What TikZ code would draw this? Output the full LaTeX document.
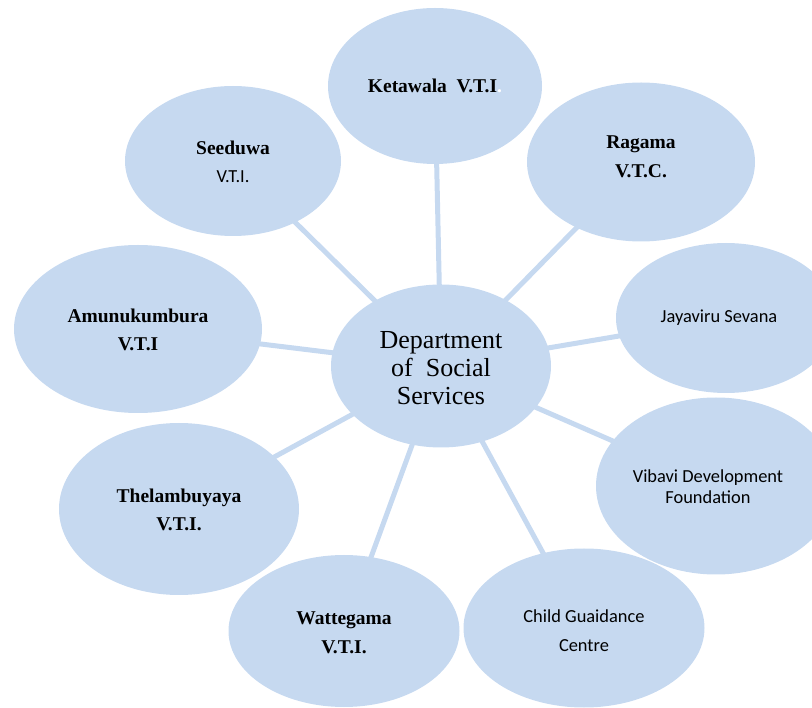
\documentclass[tikz,border=0pt]{standalone}
\usepackage{fontspec}
\setmainfont{Liberation Serif}
\newfontfamily\calfont{Carlito}
\newfontfamily\timesfont{Liberation Serif}
\usetikzlibrary{shapes.geometric,backgrounds}
\definecolor{bubble}{RGB}{198,217,240}
\tikzset{
  bub/.style={ellipse,fill=bubble,draw=none,inner sep=0pt},
  link/.style={draw=bubble,line width=5pt},
  boldtxt/.style={align=center,font=\timesfont\fontsize{19.5}{28.5}\selectfont\bfseries,inner sep=0pt},
  sanstxt/.style={align=center,font=\calfont\fontsize{18.4}{21}\selectfont,inner sep=0pt},
  maintxt/.style={align=center,font=\timesfont\fontsize{26}{28}\selectfont,inner sep=0pt}
}
\begin{document}
\begin{tikzpicture}[x=1pt,y=-1pt]
\useasboundingbox (0,0) rectangle (812,708);
% ellipses
\node[bub,minimum width=220pt,minimum height=163pt] (c) at (441,366) {};
\node[bub,minimum width=214pt,minimum height=156pt] (k) at (435,86) {};
\node[bub,minimum width=228pt,minimum height=159pt] (r) at (641,162) {};
\node[bub,minimum width=216pt,minimum height=150pt] (s) at (233,161) {};
\node[bub,minimum width=220pt,minimum height=150pt] (j) at (726,318) {};
\node[bub,minimum width=248pt,minimum height=168pt] (a) at (138,329) {};
\node[bub,minimum width=240pt,minimum height=177pt] (v) at (716,486) {};
\node[bub,minimum width=240pt,minimum height=172pt] (t) at (179,509) {};
\node[bub,minimum width=231pt,minimum height=152pt] (w) at (344,631) {};
\node[bub,minimum width=241pt,minimum height=159pt] (g) at (584,628) {};
% connectors
\begin{scope}[on background layer]
\foreach \n in {k,r,s,j,a,v,t,w,g}{\draw[link] (c.center) -- (\n.center);}
\end{scope}
% texts
\node[maintxt] (ct) at (441,368) {Department\\of\ \ Social\\Services};
\node[boldtxt] (kt) at (435,86) {Ketawala\ \ V.T.I\textcolor{white}{.}};
\node[boldtxt] (rt) at (641,157) {Ragama\\V.T.C.};
\node[boldtxt] (st) at (233,162) {Seeduwa\\{\calfont\mdseries\fontsize{18.4}{28.5}\selectfont V.T.I.}};
\node[sanstxt] (jt) at (719,318) {Jayaviru Sevana};
\node[boldtxt] (at) at (138,330) {Amunukumbura\\V.T.I};
\node[sanstxt] (vt) at (708,487) {Vibavi Development\\Foundation};
\node[boldtxt] (tt) at (179,510) {Thelambuyaya\\V.T.I.};
\node[boldtxt] (wt) at (344,633) {Wattegama\\V.T.I.};
\node[sanstxt,font=\calfont\fontsize{18.4}{29}\selectfont] (gt) at (584,631) {Child Guaidance\\Centre};
\end{tikzpicture}
\end{document}
